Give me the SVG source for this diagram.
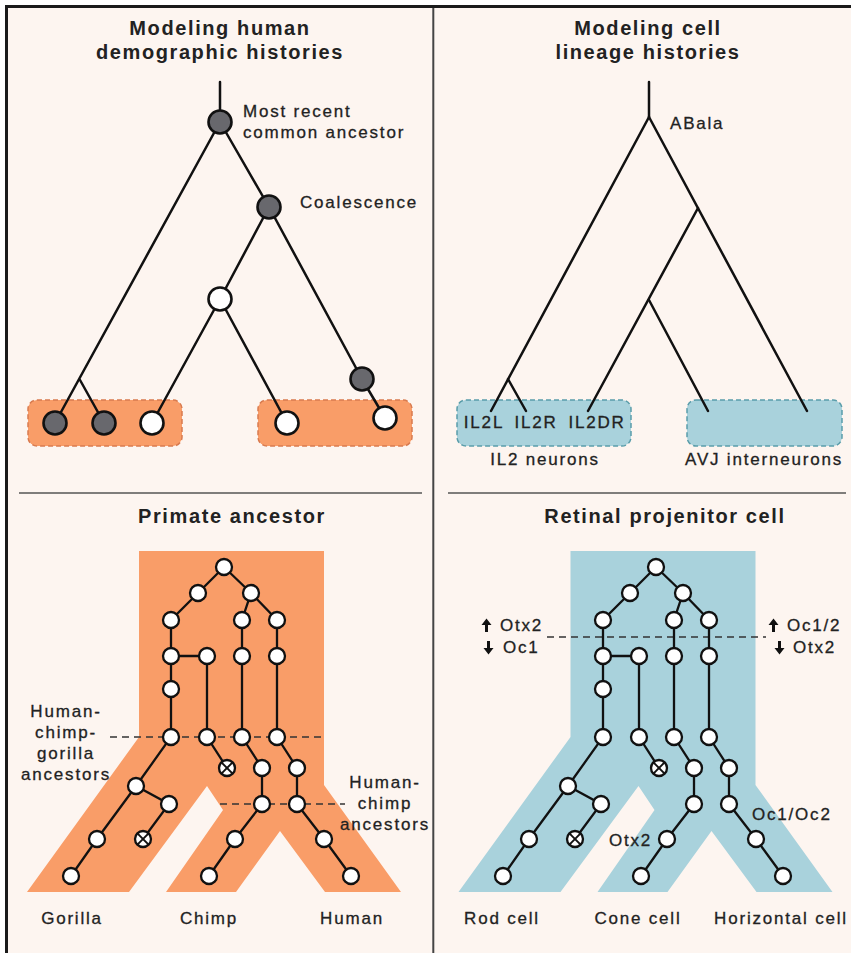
<svg xmlns="http://www.w3.org/2000/svg" width="851" height="953" viewBox="0 0 851 953">
<style>
text{font-family:"Liberation Sans",Arial,sans-serif;fill:#222;}
.title{font-size:20px;font-weight:bold;letter-spacing:1.6px;text-anchor:middle;}
.lbl{font-size:17px;letter-spacing:1.8px;stroke:#222;stroke-width:0.3px;}
.mid{text-anchor:middle;}
.e{stroke:#111;stroke-width:2.5;fill:none;stroke-linecap:round;}
.eb{stroke:#111;stroke-width:2.3;fill:none;}
.dk{fill:#68686d;stroke:#111;stroke-width:2.6;}
.wt{fill:#fff;stroke:#111;stroke-width:2.6;}
.sn{fill:#fff;stroke:#111;stroke-width:2.3;}
.x{stroke:#111;stroke-width:2;}
.dash{stroke:#333;stroke-width:1.5;stroke-dasharray:7 5;fill:none;}
.obox{fill:#f99d68;stroke:#d97b4f;stroke-width:1.5;stroke-dasharray:5 3;}
.bbox{fill:#a9d2dc;stroke:#5a9daa;stroke-width:1.5;stroke-dasharray:5 3;}
</style>
<defs>
<g id="xnode"><circle r="8" class="sn"/><line x1="-5.6" y1="-5.6" x2="5.6" y2="5.6" class="x"/><line x1="-5.6" y1="5.6" x2="5.6" y2="-5.6" class="x"/></g>
</defs>
<rect x="0" y="0" width="851" height="953" fill="#fff"/>
<rect x="6.5" y="6.5" width="845" height="947" fill="#fdf5f0"/>
<path d="M6.5,953 V6.5 H851" fill="none" stroke="#1a1a1a" stroke-width="3"/>
<line x1="433.3" y1="8" x2="433.3" y2="953" stroke="#444" stroke-width="2"/>
<line x1="19" y1="493" x2="422" y2="493" stroke="#555" stroke-width="1.7"/>
<line x1="448" y1="493" x2="846" y2="493" stroke="#555" stroke-width="1.7"/>

<g id="titles">
<text class="title" x="220" y="35">Modeling human</text>
<text class="title" x="220" y="59">demographic histories</text>
<text class="title" x="648" y="35">Modeling cell</text>
<text class="title" x="648" y="59">lineage histories</text>
<text class="title" x="232" y="523">Primate ancestor</text>
<text class="title" x="665" y="523">Retinal projenitor cell</text>
</g>

<g id="boxes">
<rect class="obox" x="28" y="400" width="154" height="46" rx="9"/>
<rect class="obox" x="258" y="400" width="154" height="46" rx="9"/>
<rect class="bbox" x="457" y="400" width="174" height="46" rx="9"/>
<rect class="bbox" x="687" y="400" width="155" height="46" rx="9"/>
<polygon id="primate-shape" fill="#f99d68" points="139,551 324,551 324,785 401,892 325,892 280,831 236,892 166,892 223,810 207,786 129,892 27,892 139,737"/>
<polygon id="retina-shape" fill="#a9d2dc" points="570.5,551 755.5,551 755.5,785 832.5,892 756.5,892 711.5,831 667.5,892 597.5,892 654.5,810 638.5,786 560.5,892 458.5,892 570.5,737"/>
</g>

<g id="connectors">
<line class="e" x1="220" y1="82" x2="220" y2="122"/>
<line class="e" x1="220" y1="122" x2="55" y2="423"/>
<line class="e" x1="80" y1="380" x2="104" y2="423"/>
<line class="e" x1="220" y1="122" x2="269" y2="207"/>
<line class="e" x1="269" y1="207" x2="220" y2="299"/>
<line class="e" x1="269" y1="207" x2="362" y2="379"/>
<line class="e" x1="362" y1="379" x2="385" y2="418"/>
<line class="e" x1="220" y1="299" x2="152" y2="423"/>
<line class="e" x1="220" y1="299" x2="287" y2="423"/>

<line class="e" x1="649" y1="82" x2="649" y2="117"/>
<line class="e" x1="649" y1="117" x2="491" y2="411"/>
<line class="e" x1="508" y1="379" x2="526" y2="411"/>
<line class="e" x1="649" y1="117" x2="807" y2="411"/>
<line class="e" x1="698" y1="208" x2="588" y2="411"/>
<line class="e" x1="649" y1="300" x2="708" y2="411"/>

<path class="dash" d="M110,737 H324 M220,804 H345"/>
<path class="dash" d="M547,637 H766"/>

<path class="eb" d="M224,567 L198,593 L171,620 V737 L136,786 L97,839 L71,876 M136,786 L169,804 L143,839 M171,656 H207 V737 L227,768 M224,567 L251,593 L242,620 V737 L262,768 V804 L235,839 L209,876 M251,593 L277,620 V737 L297,768 V804 L324,839 L351,876"/>
<path class="eb" d="M656,567 L630,593 L603,620 V737 L568,786 L529,839 L503,876 M568,786 L601,804 L575,839 M603,656 H639 V737 L659,768 M656,567 L683,593 L674,620 V737 L694,768 V804 L667,839 L641,876 M683,593 L709,620 V737 L729,768 V804 L756,839 L783,876"/>
</g>

<g id="mrca"><circle cx="220" cy="122" r="11.5" class="dk"/></g>
<g id="coalescence"><circle cx="269" cy="207" r="11.5" class="dk"/></g>
<g id="tl-mid"><circle cx="220" cy="299" r="11.5" class="wt"/></g>
<g id="tl-right"><circle cx="362" cy="379" r="11.5" class="dk"/></g>
<g id="leaf1"><circle cx="55" cy="423" r="11.5" class="dk"/></g>
<g id="leaf2"><circle cx="104" cy="423" r="11.5" class="dk"/></g>
<g id="leaf3"><circle cx="152" cy="423" r="11.5" class="wt"/></g>
<g id="leaf4"><circle cx="287" cy="423" r="11.5" class="wt"/></g>
<g id="leaf5"><circle cx="385" cy="418" r="11.5" class="wt"/></g>

<g id="primate-nodes">
<circle class="sn" cx="224" cy="567" r="8"/>
<circle class="sn" cx="198" cy="593" r="8"/>
<circle class="sn" cx="251" cy="593" r="8"/>
<circle class="sn" cx="171" cy="620" r="8"/>
<circle class="sn" cx="242" cy="620" r="8"/>
<circle class="sn" cx="277" cy="620" r="8"/>
<circle class="sn" cx="171" cy="656" r="8"/>
<circle class="sn" cx="207" cy="656" r="8"/>
<circle class="sn" cx="242" cy="656" r="8"/>
<circle class="sn" cx="277" cy="656" r="8"/>
<circle class="sn" cx="171" cy="689" r="8"/>
<circle class="sn" cx="171" cy="737" r="8"/>
<circle class="sn" cx="207" cy="737" r="8"/>
<circle class="sn" cx="242" cy="737" r="8"/>
<circle class="sn" cx="277" cy="737" r="8"/>
<use href="#xnode" x="227" y="768"/>
<circle class="sn" cx="262" cy="768" r="8"/>
<circle class="sn" cx="297" cy="768" r="8"/>
<circle class="sn" cx="136" cy="786" r="8"/>
<circle class="sn" cx="169" cy="804" r="8"/>
<circle class="sn" cx="262" cy="804" r="8"/>
<circle class="sn" cx="297" cy="804" r="8"/>
<circle class="sn" cx="97" cy="839" r="8"/>
<use href="#xnode" x="143" y="839"/>
<circle class="sn" cx="235" cy="839" r="8"/>
<circle class="sn" cx="324" cy="839" r="8"/>
<circle class="sn" cx="71" cy="876" r="8"/>
<circle class="sn" cx="209" cy="876" r="8"/>
<circle class="sn" cx="351" cy="876" r="8"/>
</g>

<g id="retina-nodes">
<circle class="sn" cx="656" cy="567" r="8"/>
<circle class="sn" cx="630" cy="593" r="8"/>
<circle class="sn" cx="683" cy="593" r="8"/>
<circle class="sn" cx="603" cy="620" r="8"/>
<circle class="sn" cx="674" cy="620" r="8"/>
<circle class="sn" cx="709" cy="620" r="8"/>
<circle class="sn" cx="603" cy="656" r="8"/>
<circle class="sn" cx="639" cy="656" r="8"/>
<circle class="sn" cx="674" cy="656" r="8"/>
<circle class="sn" cx="709" cy="656" r="8"/>
<circle class="sn" cx="603" cy="689" r="8"/>
<circle class="sn" cx="603" cy="737" r="8"/>
<circle class="sn" cx="639" cy="737" r="8"/>
<circle class="sn" cx="674" cy="737" r="8"/>
<circle class="sn" cx="709" cy="737" r="8"/>
<use href="#xnode" x="659" y="768"/>
<circle class="sn" cx="694" cy="768" r="8"/>
<circle class="sn" cx="729" cy="768" r="8"/>
<circle class="sn" cx="568" cy="786" r="8"/>
<circle class="sn" cx="601" cy="804" r="8"/>
<circle class="sn" cx="694" cy="804" r="8"/>
<circle class="sn" cx="729" cy="804" r="8"/>
<circle class="sn" cx="529" cy="839" r="8"/>
<use href="#xnode" x="575" y="839"/>
<circle class="sn" cx="667" cy="839" r="8"/>
<circle class="sn" cx="756" cy="839" r="8"/>
<circle class="sn" cx="503" cy="876" r="8"/>
<circle class="sn" cx="641" cy="876" r="8"/>
<circle class="sn" cx="783" cy="876" r="8"/>
</g>

<g id="labels">
<text class="lbl" x="243" y="117">Most recent</text>
<text class="lbl" x="243" y="138">common ancestor</text>
<text class="lbl" x="300" y="208">Coalescence</text>
<text class="lbl" x="670" y="129">ABala</text>
<text class="lbl mid" x="484" y="428">IL2L</text>
<text class="lbl mid" x="536" y="428">IL2R</text>
<text class="lbl mid" x="597" y="428">IL2DR</text>
<text class="lbl mid" x="545" y="465">IL2 neurons</text>
<text class="lbl mid" x="764" y="465">AVJ interneurons</text>
<text class="lbl mid" x="66" y="717">Human-</text>
<text class="lbl mid" x="66" y="738">chimp-</text>
<text class="lbl mid" x="66" y="759">gorilla</text>
<text class="lbl mid" x="66" y="780">ancestors</text>
<text class="lbl mid" x="385" y="788">Human-</text>
<text class="lbl mid" x="385" y="809">chimp</text>
<text class="lbl mid" x="385" y="830">ancestors</text>
<text class="lbl mid" x="72" y="924">Gorilla</text>
<text class="lbl mid" x="209" y="924">Chimp</text>
<text class="lbl mid" x="352" y="924">Human</text>
<text class="lbl mid" x="502" y="924">Rod cell</text>
<text class="lbl mid" x="638" y="924">Cone cell</text>
<text class="lbl mid" x="781" y="924">Horizontal cell</text>
<text class="lbl" x="500" y="631">Otx2</text>
<text class="lbl" x="503" y="653">Oc1</text>
<text class="lbl" x="787" y="631">Oc1/2</text>
<text class="lbl" x="793" y="653">Otx2</text>
<text class="lbl" x="752" y="820">Oc1/Oc2</text>
<text class="lbl" x="609" y="846">Otx2</text>
</g>
<g id="arrows" fill="#111">
<path d="M485,632 V625 H481.5 L486.5,618.5 L491.5,625 H488 V632 Z"/>
<path d="M487,641 V648 H483.5 L488.5,654.5 L493.5,648 H490 V641 Z"/>
<path d="M772,632 V625 H768.5 L773.5,618.5 L778.5,625 H775 V632 Z"/>
<path d="M778,641 V648 H774.5 L779.5,654.5 L784.5,648 H781 V641 Z"/>
</g>
</svg>
